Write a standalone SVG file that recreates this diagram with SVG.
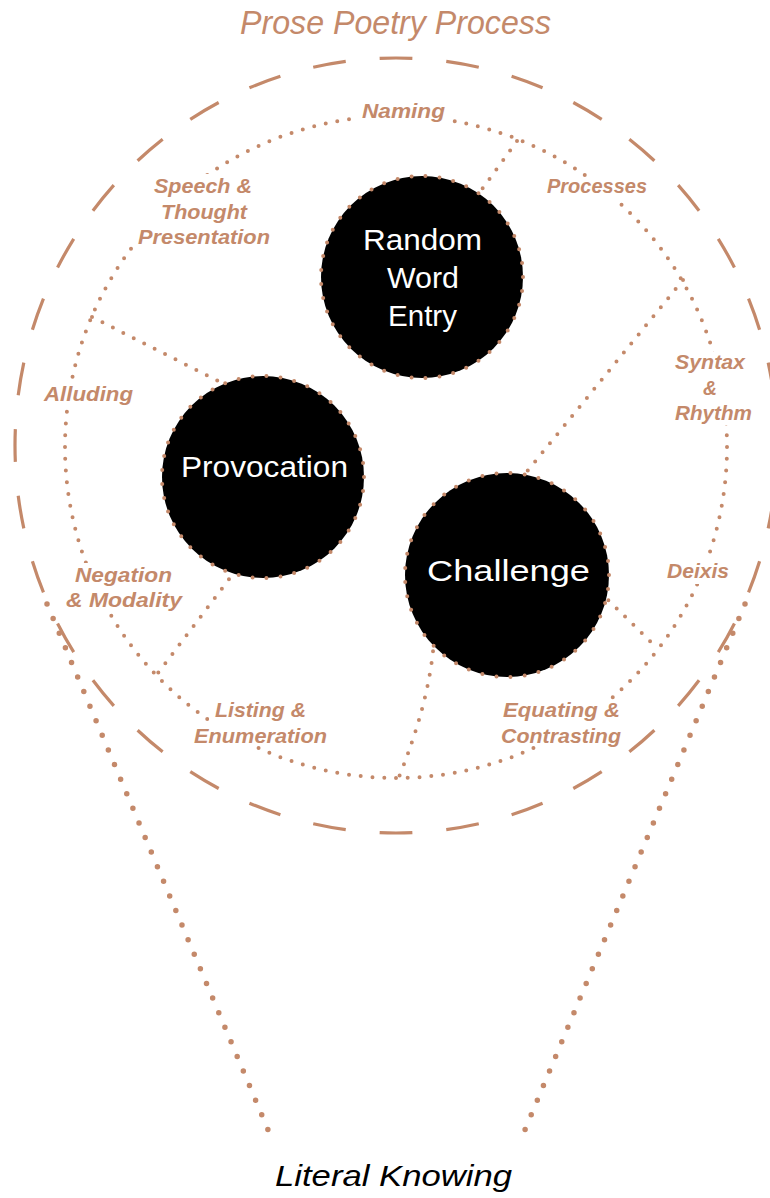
<svg xmlns="http://www.w3.org/2000/svg" width="770" height="1198" viewBox="0 0 770 1198">
  <style>
    .lbl { font-family: "Liberation Sans", Arial, sans-serif; font-weight: bold; font-style: italic; font-size: 20px; fill: #C4896A; }
    .title { font-family: "Liberation Sans", Arial, sans-serif; font-style: italic; font-size: 34px; fill: #C4896A; }
    .foot { font-family: "Liberation Sans", Arial, sans-serif; font-style: italic; font-size: 29px; fill: #000; }
    .ntext { font-family: "Liberation Sans", Arial, sans-serif; font-size: 30px; fill: #fff; }
    .disc { fill: #000; stroke: #C4896A; stroke-width: 4; stroke-linecap: round; stroke-dasharray: 0 1; }
    .dots { fill: none; stroke: #C4896A; stroke-width: 4; stroke-linecap: round; stroke-dasharray: 0 11.7; }
    .ring { fill: none; stroke: #C4896A; stroke-width: 4; stroke-linecap: round; stroke-dasharray: 0 1; }
    .funnel { fill: none; stroke: #C4896A; stroke-width: 5.5; stroke-linecap: round; stroke-dasharray: 0 1; }
    .dash { fill: none; stroke: #C4896A; stroke-width: 3.2; stroke-dasharray: 33 34; stroke-dashoffset: 16.5; }
  </style>
  <defs>
    <mask id="labelGap" maskUnits="userSpaceOnUse" x="0" y="0" width="770" height="1198">
      <rect x="0" y="0" width="770" height="1198" fill="#fff"/>
      <rect x="355" y="101" width="96" height="24" fill="#000"/>
      <rect x="134" y="174" width="140" height="76" fill="#000"/>
      <rect x="541" y="179" width="112" height="22" fill="#000"/>
      <rect x="669" y="352" width="90" height="73" fill="#000"/>
      <rect x="40" y="381" width="98" height="26" fill="#000"/>
      <rect x="62" y="563" width="124" height="50" fill="#000"/>
      <rect x="661" y="560" width="74" height="24" fill="#000"/>
      <rect x="209" y="702" width="102" height="21" fill="#000"/>
      <rect x="190" y="723" width="141" height="23" fill="#000"/>
      <rect x="500" y="702" width="124" height="21" fill="#000"/>
      <rect x="498" y="723" width="126" height="23" fill="#000"/>
    </mask>
  </defs>
  <rect x="0" y="0" width="770" height="1198" fill="#fff"/>

  <g id="title">
    <text class="title" x="240" y="34" textLength="311" lengthAdjust="spacingAndGlyphs">Prose Poetry Process</text>
  </g>

  <g id="connectors">
    <path class="dash" pathLength="2412" d="M396,58 A381,387.5 0 0 1 396,833 A381,387.5 0 0 1 396,58 Z"/>
    <circle class="ring" cx="396" cy="447" r="331" pathLength="176" mask="url(#labelGap)"/>
    <path class="dots" d="M517,141 L472,203"/>
    <path class="dots" d="M683,280 L520,480"/>
    <path class="dots" d="M92,317 L230,387"/>
    <path class="dots" d="M236,570 L158,673"/>
    <path class="dots" d="M434,640 Q430,700 399,777"/>
    <path class="dots" d="M600,592 L657,648"/>
    <path class="funnel" pathLength="37" d="M47,604 L274,1144"/>
    <path class="funnel" pathLength="37" d="M745,604 L519,1144"/>
  </g>

  <g id="node-random-word-entry">
    <circle class="disc" cx="422" cy="277" r="101" pathLength="45"/>
    <text class="ntext" x="363" y="250" textLength="119" lengthAdjust="spacingAndGlyphs">Random</text>
    <text class="ntext" x="387" y="288" textLength="72" lengthAdjust="spacingAndGlyphs">Word</text>
    <text class="ntext" x="388" y="326" textLength="69" lengthAdjust="spacingAndGlyphs">Entry</text>
  </g>
  <g id="node-provocation">
    <circle class="disc" cx="263" cy="477" r="101" pathLength="45"/>
    <text class="ntext" x="181" y="477" textLength="167" lengthAdjust="spacingAndGlyphs">Provocation</text>
  </g>
  <g id="node-challenge">
    <circle class="disc" cx="507" cy="575" r="102" pathLength="45"/>
    <text class="ntext" x="427" y="581" textLength="163" lengthAdjust="spacingAndGlyphs">Challenge</text>
  </g>

  <g id="label-naming">
    <text class="lbl" x="362" y="118" textLength="83" lengthAdjust="spacingAndGlyphs">Naming</text>
  </g>
  <g id="label-speech">
    <text class="lbl" x="154" y="193" textLength="98" lengthAdjust="spacingAndGlyphs">Speech &amp;</text>
    <text class="lbl" x="161" y="219" textLength="86" lengthAdjust="spacingAndGlyphs">Thought</text>
    <text class="lbl" x="138" y="244" textLength="132" lengthAdjust="spacingAndGlyphs">Presentation</text>
  </g>
  <g id="label-processes">
    <text class="lbl" x="547" y="193" textLength="100" lengthAdjust="spacingAndGlyphs">Processes</text>
  </g>
  <g id="label-syntax">
    <text class="lbl" x="675" y="369" textLength="70" lengthAdjust="spacingAndGlyphs">Syntax</text>
    <text class="lbl" x="703" y="395" textLength="14" lengthAdjust="spacingAndGlyphs">&amp;</text>
    <text class="lbl" x="675" y="420" textLength="77" lengthAdjust="spacingAndGlyphs">Rhythm</text>
  </g>
  <g id="label-alluding">
    <text class="lbl" x="44" y="401" textLength="89" lengthAdjust="spacingAndGlyphs">Alluding</text>
  </g>
  <g id="label-negation">
    <text class="lbl" x="75" y="582" textLength="97" lengthAdjust="spacingAndGlyphs">Negation</text>
    <text class="lbl" x="66" y="607" textLength="116" lengthAdjust="spacingAndGlyphs">&amp; Modality</text>
  </g>
  <g id="label-deixis">
    <text class="lbl" x="667" y="578" textLength="62" lengthAdjust="spacingAndGlyphs">Deixis</text>
  </g>
  <g id="label-listing">
    <text class="lbl" x="215" y="717" textLength="91" lengthAdjust="spacingAndGlyphs">Listing &amp;</text>
    <text class="lbl" x="194" y="743" textLength="133" lengthAdjust="spacingAndGlyphs">Enumeration</text>
  </g>
  <g id="label-equating">
    <text class="lbl" x="503" y="717" textLength="117" lengthAdjust="spacingAndGlyphs">Equating &amp;</text>
    <text class="lbl" x="501" y="743" textLength="120" lengthAdjust="spacingAndGlyphs">Contrasting</text>
  </g>

  <g id="footer">
    <text class="foot" x="275" y="1186" textLength="237" lengthAdjust="spacingAndGlyphs">Literal Knowing</text>
  </g>
</svg>
